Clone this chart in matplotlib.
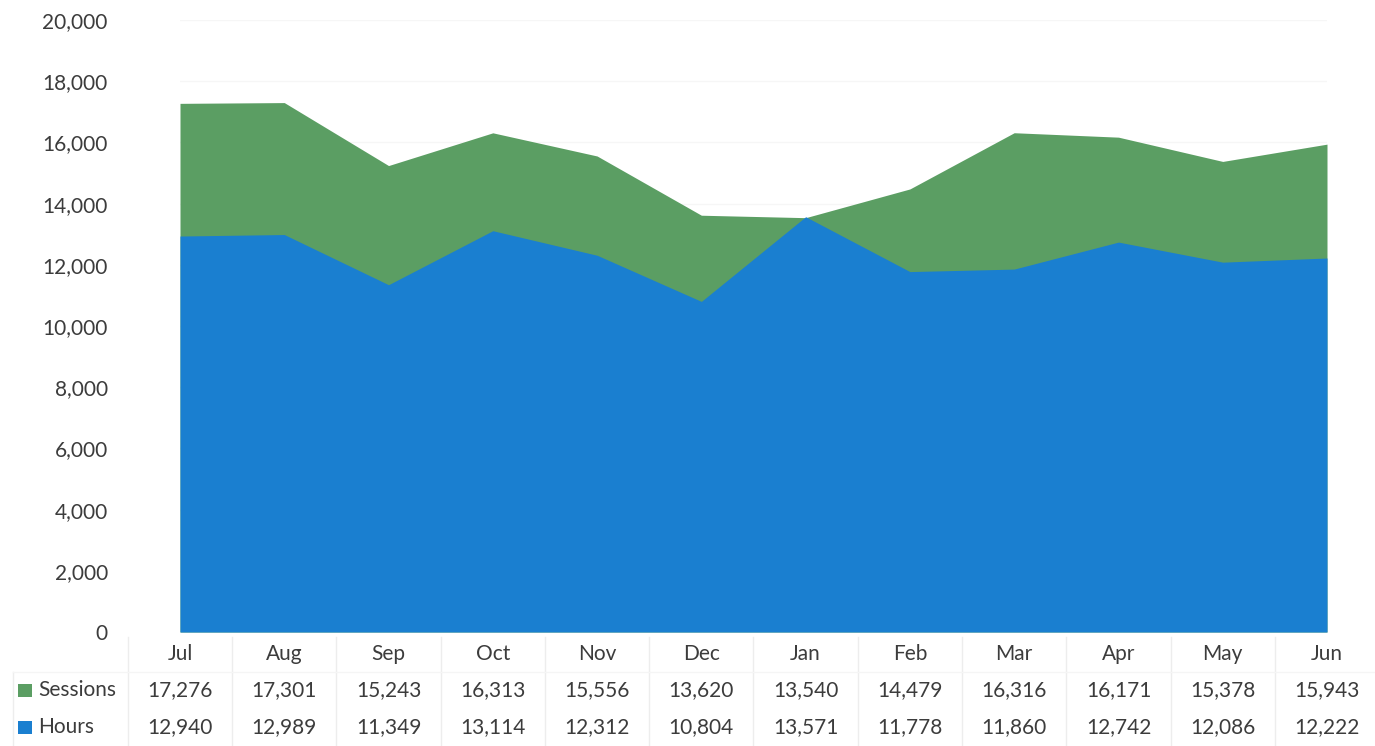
import matplotlib.pyplot as plt
from matplotlib.transforms import blended_transform_factory

months = ['Jul', 'Aug', 'Sep', 'Oct', 'Nov', 'Dec', 'Jan', 'Feb', 'Mar', 'Apr', 'May', 'Jun']
sessions = [17276, 17301, 15243, 16313, 15556, 13620, 13540, 14479, 16316, 16171, 15378, 15943]
hours = [12940, 12989, 11349, 13114, 12312, 10804, 13571, 11778, 11860, 12742, 12086, 12222]
y_ticks = [0, 2000, 4000, 6000, 8000, 10000, 12000, 14000, 16000, 18000, 20000]

green = '#5b9e63'
blue = '#1a7fd0'
text_color = '#3c3c3c'
grid_color = '#f6f6f6'

plt.rcParams['font.family'] = ['Lato', 'DejaVu Sans']

W, H = 1375, 746
fig = plt.figure(figsize=(W / 100, H / 100), dpi=100)
ax = fig.add_axes([180 / W, 1 - 632 / H, (1327 - 180) / W, (632 - 20) / H])

x = list(range(len(months)))
ax.fill_between(x, 0, sessions, color=green, linewidth=0, zorder=2)
ax.fill_between(x, 0, hours, color=blue, linewidth=0, zorder=3)

ax.set_xlim(0, len(months) - 1)
ax.set_ylim(0, 20000)
ax.set_yticks(y_ticks)
ax.set_yticklabels([f'{v:,}' for v in y_ticks], fontsize=15, color=text_color)
ax.tick_params(axis='y', length=0, pad=52)
ax.set_xticks([])
ax.grid(axis='y', color=grid_color, linewidth=1, zorder=1)
for s in ax.spines.values():
    s.set_visible(False)

# data table under the plot: x in data units, y in figure pixels
def fy(py):
    return 1 - py / H

tr = blended_transform_factory(ax.transData, fig.transFigure)
line_color = '#ededed'
for i in range(len(months) + 1):
    ax.plot([i - 0.5, i - 0.5], [fy(637), fy(746)], transform=tr,
            color=line_color, linewidth=1, clip_on=False)
fig.add_artist(plt.Line2D([13 / W, 13 / W], [fy(672), fy(746)], color=line_color, linewidth=1))
fig.add_artist(plt.Line2D([13 / W, 1375 / W], [fy(672), fy(672)], color='#f5f5f5', linewidth=1))

for i, m in enumerate(months):
    ax.text(i, fy(654), m, transform=tr, ha='center', va='center', fontsize=15, color=text_color)
    ax.text(i, fy(690), f'{sessions[i]:,}', transform=tr, ha='center', va='center', fontsize=15, color=text_color)
    ax.text(i, fy(727), f'{hours[i]:,}', transform=tr, ha='center', va='center', fontsize=15, color=text_color)

for py, name, c in [(690, 'Sessions', green), (727, 'Hours', blue)]:
    fig.add_artist(plt.Rectangle((18 / W, fy(py + 7)), 14 / W, 13 / H, color=c, linewidth=0))
    fig.text(38 / W, fy(py), name, ha='left', va='center', fontsize=15, color=text_color)

fig.savefig('out.png', dpi=100)
